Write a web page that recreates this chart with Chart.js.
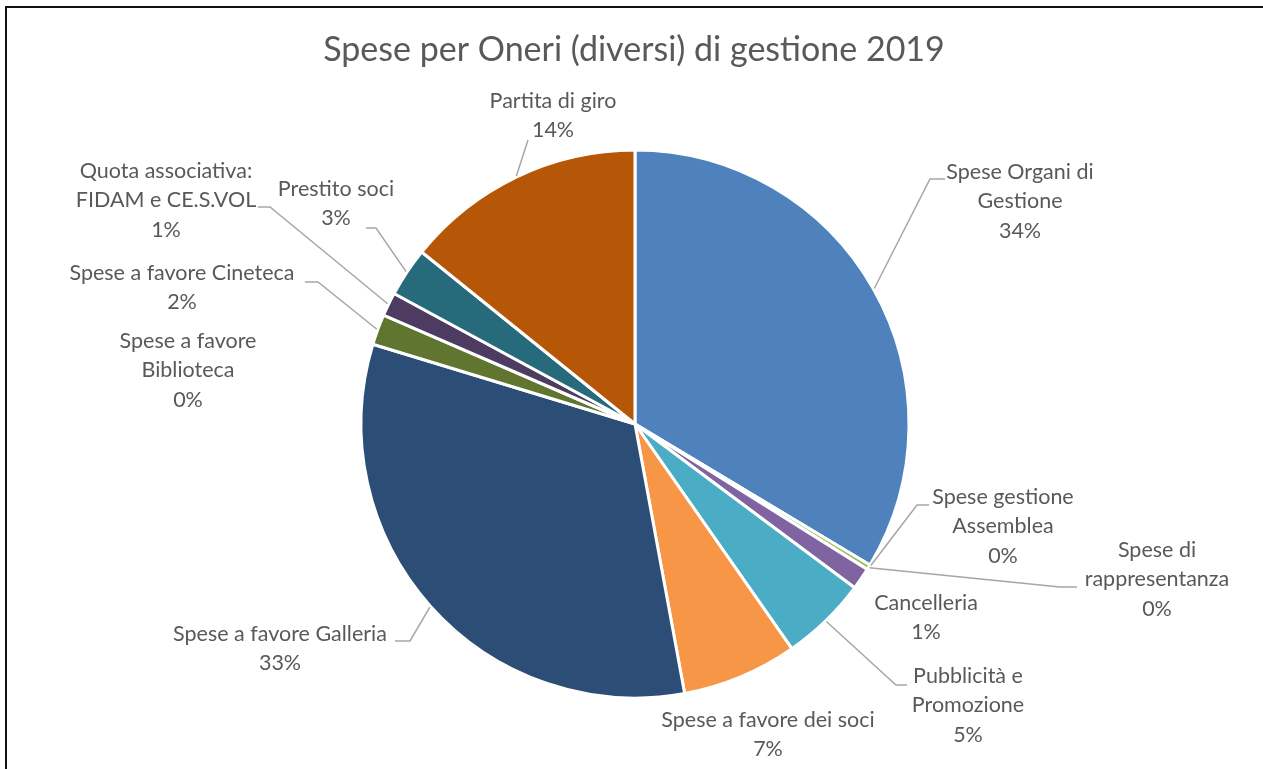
<!DOCTYPE html>
<html lang="it">
<head>
    <meta charset="UTF-8">
    <title>Spese per Oneri (diversi) di gestione 2019</title>
    <script src="https://cdn.jsdelivr.net/npm/chart.js"></script>
    <style>
        html, body { margin: 0; padding: 0; background: #fff; overflow: hidden; }
        #wrap { position: relative; width: 1263px; height: 769px; }
        #frame {
            position: absolute; left: 5px; top: 6px; width: 1300px; height: 800px;
            border-left: 2px solid #111; border-top: 2px solid #111;
        }
        canvas { position: absolute; left: 0; top: 0; }
    </style>
</head>
<body>
<div id="wrap">
    <div id="frame"></div>
    <canvas id="pie" width="1263" height="769"></canvas>
</div>

<script>
// categories (already split over lines as in the picture)
var categories = [
    ['Spese Organi di', 'Gestione'],
    ['Spese gestione', 'Assemblea'],
    ['Spese di', 'rappresentanza'],
    ['Cancelleria'],
    ['Pubblicità e', 'Promozione'],
    ['Spese a favore dei soci'],
    ['Spese a favore Galleria'],
    ['Spese a favore', 'Biblioteca'],
    ['Spese a favore Cineteca'],
    ['Quota associativa:', 'FIDAM e CE.S.VOL'],
    ['Prestito soci'],
    ['Partita di giro']
];
// share of the total, in percent
var values = [33.6, 0, 0.3, 1.3, 5.1, 6.8, 32.6, 0, 1.8, 1.4, 2.9, 14.2];
var colors = ['#4F81BD', '#C0504D', '#9BBB59', '#8064A2', '#4BACC6', '#F79646',
              '#2C4D75', '#772C2A', '#5F7530', '#4D3B62', '#276A7C', '#B65708'];

// where each data label sits (centre x, first line y) and where its leader ends
var labelPos = [
    [1020, 172], [1003, 497], [1157, 550], [926, 603], [968, 676], [768, 720],
    [280, 634], [188, 341], [182, 273], [166, 171], [336, 189], [553, 101]
];
var leaders = {
    0: { end: [945, 179], elbow: [930, 179] },
    1: { end: [929, 505], elbow: [917, 505] },
    2: { end: [1077, 587], elbow: [1060, 587] },
    4: { end: [907, 685], elbow: [896, 685] },
    6: { end: [395, 641], elbow: [410, 641] },
    8: { end: [305, 282], elbow: [318, 282] },
    9: { end: [258, 207], elbow: [270, 207] },
    10: { end: [366, 228], elbow: [376, 228] },
    11: { end: [528, 140], elbow: [528, 140] }
};

var textColor = '#595959';
var fontFamily = 'Lato, "Open Sans", sans-serif';

var pieLabels = {
    id: 'pieLabels',
    afterDraw: function (chart) {
        var ctx = chart.ctx;
        var meta = chart.getDatasetMeta(0);
        var total = values.reduce(function (a, b) { return a + b; }, 0);

        ctx.save();
        // title
        ctx.fillStyle = textColor;
        ctx.font = '34px ' + fontFamily;
        ctx.textAlign = 'center';
        ctx.textBaseline = 'middle';
        ctx.fillText('Spese per Oneri (diversi) di gestione 2019', 634, 50);

        // leader lines
        ctx.strokeStyle = '#A6A6A6';
        ctx.lineWidth = 1.5;
        meta.data.forEach(function (arc, i) {
            var ld = leaders[i];
            if (!ld) return;
            var p = arc.getProps(['x', 'y', 'startAngle', 'endAngle', 'outerRadius'], true);
            var mid = (p.startAngle + p.endAngle) / 2;
            var sx = p.x + Math.cos(mid) * (p.outerRadius + 1);
            var sy = p.y + Math.sin(mid) * (p.outerRadius + 1);
            ctx.beginPath();
            ctx.moveTo(sx, sy);
            ctx.lineTo(ld.elbow[0], ld.elbow[1]);
            ctx.lineTo(ld.end[0], ld.end[1]);
            ctx.stroke();
        });

        // data labels
        ctx.font = '21.5px ' + fontFamily;
        ctx.fillStyle = textColor;
        categories.forEach(function (lines, i) {
            var pct = Math.round(values[i] / total * 100) + '%';
            var all = lines.concat([pct]);
            all.forEach(function (t, k) {
                ctx.fillText(t, labelPos[i][0], labelPos[i][1] + k * 29.5);
            });
        });
        ctx.restore();
    }
};

new Chart(document.getElementById('pie'), {
    type: 'pie',
    data: {
        labels: categories,
        datasets: [{
            data: values,
            backgroundColor: colors,
            borderColor: '#ffffff',
            borderWidth: 3
        }]
    },
    options: {
        responsive: false,
        animation: false,
        radius: 274,
        layout: { padding: { left: 361, right: 354, top: 150, bottom: 71 } },
        plugins: {
            legend: { display: false },
            tooltip: { enabled: false },
            title: { display: false }
        }
    },
    plugins: [pieLabels]
});
</script>
</body>
</html>
